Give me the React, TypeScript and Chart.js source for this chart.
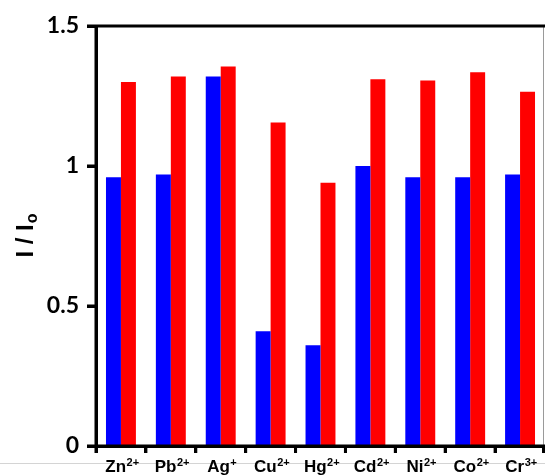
import { useEffect, useRef } from 'react';
import { Chart, registerables } from 'chart.js';

Chart.register(...registerables);

const ionSymbols = ['Zn', 'Pb', 'Ag', 'Cu', 'Hg', 'Cd', 'Ni', 'Co', 'Cr'];
const ionCharges = ['2+', '2+', '+', '2+', '2+', '2+', '2+', '2+', '3+'];
const categories = ionSymbols.map((s, i) => s + ionCharges[i]);
const blueValues = [0.96, 0.97, 1.32, 0.41, 0.36, 1.0, 0.96, 0.96, 0.97];
const redValues = [1.3, 1.32, 1.355, 1.155, 0.94, 1.31, 1.305, 1.335, 1.265];
const yMin = 0;
const yMax = 1.5;
const yStep = 0.5;
const yTitleMain = 'I / I';
const yTitleSub = 'o';

const FONT_SANS = '"Liberation Sans", Arial, sans-serif';

const decorPlugin = {
  id: 'decor',
  afterDraw(chart: any) {
    const { ctx, chartArea, scales } = chart;
    const xs = scales.x;
    const ys = scales.y;
    const { left, right, top, bottom } = chartArea;
    ctx.save();
    // faint horizontal line below axis
    ctx.strokeStyle = '#d4d4d4';
    ctx.lineWidth = 1;
    ctx.beginPath();
    ctx.moveTo(0, bottom + 17.5);
    ctx.lineTo(chart.width, bottom + 17.5);
    ctx.stroke();
    // right thin gray frame
    ctx.strokeStyle = '#9a9a9a';
    ctx.beginPath();
    ctx.moveTo(right - 1.5, top);
    ctx.lineTo(right - 1.5, bottom);
    ctx.stroke();

    // thick black axes, frame and tick marks
    ctx.strokeStyle = '#000';
    ctx.lineWidth = 3;
    ctx.lineCap = 'butt';
    ctx.beginPath();
    ctx.moveTo(left, top);
    ctx.lineTo(chart.width, top);
    ctx.moveTo(left, top - 1.5);
    ctx.lineTo(left, bottom + 1.5);
    ctx.moveTo(left - 1.5, bottom);
    ctx.lineTo(chart.width, bottom);
    ys.ticks.forEach((t: any) => {
      const y = ys.getPixelForValue(t.value);
      ctx.moveTo(left - 9, y);
      ctx.lineTo(left, y);
    });
    const n = ionSymbols.length;
    for (let i = 0; i <= n; i++) {
      let x;
      if (i === 0) x = left;
      else if (i === n) x = right - 1.5;
      else x = (xs.getPixelForValue(i - 1) + xs.getPixelForValue(i)) / 2;
      ctx.moveTo(x, bottom);
      ctx.lineTo(x, bottom + 7);
    }
    ctx.stroke();

    // x labels with superscript charges
    ctx.fillStyle = '#000';
    ctx.textBaseline = 'alphabetic';
    ctx.textAlign = 'left';
    const baseFont = 'bold 17px ' + FONT_SANS;
    const supFont = 'bold 11px ' + FONT_SANS;
    const baseY = bottom + 26;
    ionSymbols.forEach((sym, i) => {
      ctx.font = baseFont;
      const w1 = ctx.measureText(sym).width;
      ctx.font = supFont;
      const w2 = ctx.measureText(ionCharges[i]).width;
      const cx = xs.getPixelForValue(i) + 1;
      const start = cx - (w1 + w2) / 2;
      ctx.font = baseFont;
      ctx.fillText(sym, start, baseY);
      ctx.font = supFont;
      ctx.fillText(ionCharges[i], start + w1 + 0.5, baseY - 6);
    });

    // y title with subscript
    const titleFont = 'bold 24px ' + FONT_SANS;
    const subFont = 'bold 16px ' + FONT_SANS;
    ctx.font = titleFont;
    const tw1 = ctx.measureText(yTitleMain).width;
    ctx.font = subFont;
    const tw2 = ctx.measureText(yTitleSub).width;
    const cy = (top + bottom) / 2;
    ctx.translate(33, cy);
    ctx.rotate(-Math.PI / 2);
    const st = -(tw1 + tw2) / 2;
    ctx.font = titleFont;
    ctx.fillText(yTitleMain, st, 0);
    ctx.font = subFont;
    ctx.fillText(yTitleSub, st + tw1 + 1, 4);
    ctx.restore();
  },
};

export default function App() {
  const canvasRef = useRef<HTMLCanvasElement | null>(null);

  useEffect(() => {
    if (!canvasRef.current) return;
    const chart = new Chart(canvasRef.current, {
      type: 'bar',
      data: {
        labels: categories,
        datasets: [
          {
            label: 'I',
            data: blueValues,
            backgroundColor: '#0000ff',
            borderWidth: 0,
            categoryPercentage: 0.6,
            barPercentage: 1.0,
          },
          {
            label: 'II',
            data: redValues,
            backgroundColor: '#ff0000',
            borderWidth: 0,
            categoryPercentage: 0.6,
            barPercentage: 1.0,
          },
        ],
      },
      options: {
        animation: false,
        responsive: false,
        maintainAspectRatio: false,
        devicePixelRatio: 1,
        layout: { padding: { top: 26, right: 0, left: 0, bottom: 0 } },
        plugins: {
          legend: { display: false },
          tooltip: { enabled: false },
          title: { display: false },
        },
        scales: {
          x: {
            type: 'category',
            offset: true,
            grid: {
              display: true,
              offset: true,
              drawOnChartArea: false,
              drawTicks: true,
              tickLength: 7,
              tickWidth: 3,
              tickColor: '#000',
              color: '#000',
            },
            border: { display: true, color: '#000', width: 3 },
            ticks: { display: false },
            afterFit: (scale: any) => {
              scale.height = 29;
            },
          },
          y: {
            min: yMin,
            max: yMax,
            grid: {
              display: true,
              drawOnChartArea: false,
              drawTicks: true,
              tickLength: 9,
              tickWidth: 3,
              tickColor: '#000',
              color: '#000',
            },
            border: { display: true, color: '#000', width: 3 },
            ticks: {
              stepSize: yStep,
              padding: 8,
              color: '#000',
              font: { family: 'Lato, "Liberation Sans", sans-serif', size: 23, weight: 'bold' },
              callback: (v: any) => String(Number(v)),
            },
            afterFit: (scale: any) => {
              scale.width = 96;
            },
          },
        },
      },
      plugins: [decorPlugin],
    });
    return () => chart.destroy();
  }, []);

  return (
    <div style={{ position: 'absolute', left: 0, top: 0, width: 545, height: 475, background: '#fff' }}>
      <canvas ref={canvasRef} width={545} height={475} style={{ width: 545, height: 475, display: 'block' }} />
    </div>
  );
}
